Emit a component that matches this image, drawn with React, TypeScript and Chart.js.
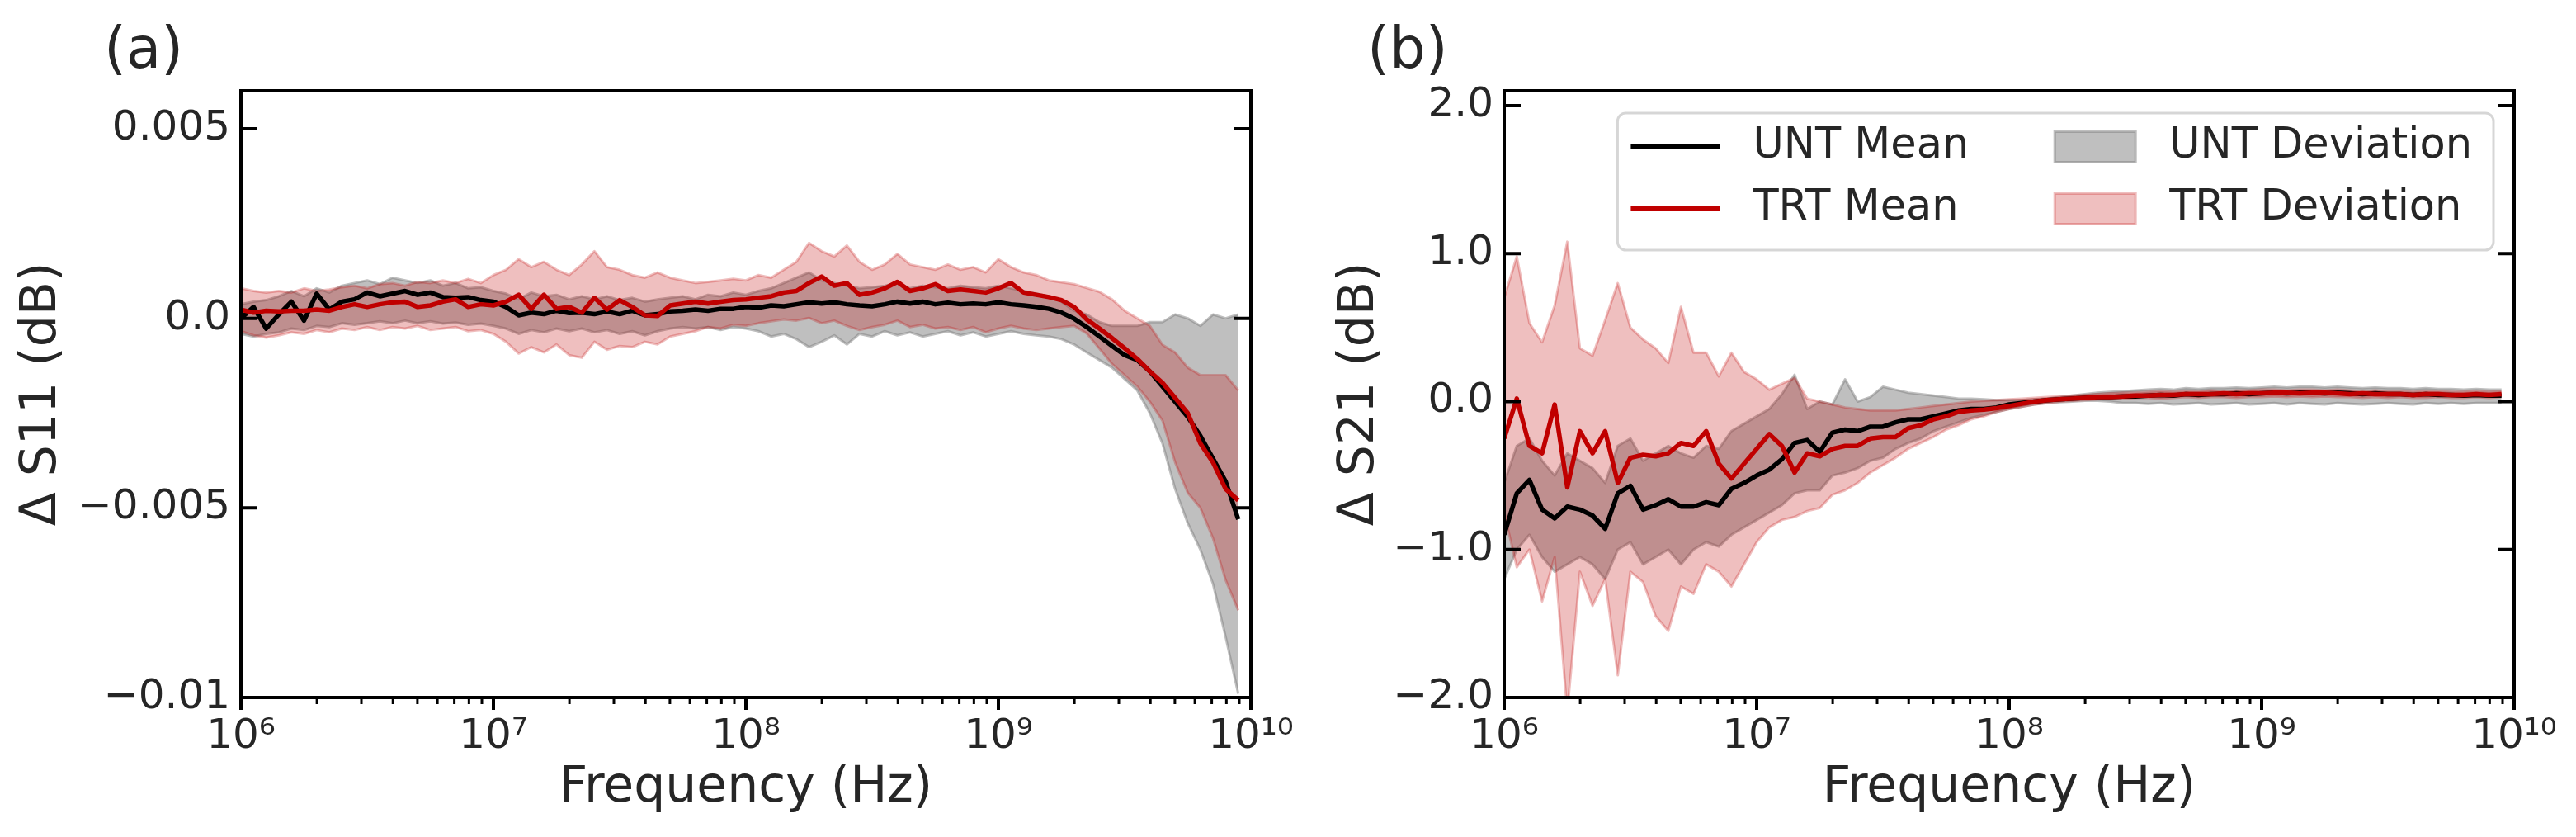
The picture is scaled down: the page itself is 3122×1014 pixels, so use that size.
import React, { useEffect, useRef } from 'react';
import { Chart, registerables } from 'chart.js';

Chart.register(...registerables);

// ---------------- data ----------------
const FREQ_HZ = [
  1.000e6, 1.122e6, 1.259e6, 1.413e6, 1.585e6, 1.778e6, 1.995e6, 2.239e6, 2.512e6, 2.818e6,
  3.162e6, 3.548e6, 3.981e6, 4.467e6, 5.012e6, 5.623e6, 6.310e6, 7.079e6, 7.943e6, 8.913e6,
  1.000e7, 1.122e7, 1.259e7, 1.413e7, 1.585e7, 1.778e7, 1.995e7, 2.239e7, 2.512e7, 2.818e7,
  3.162e7, 3.548e7, 3.981e7, 4.467e7, 5.012e7, 5.623e7, 6.310e7, 7.079e7, 7.943e7, 8.913e7,
  1.000e8, 1.122e8, 1.259e8, 1.413e8, 1.585e8, 1.778e8, 1.995e8, 2.239e8, 2.512e8, 2.818e8,
  3.162e8, 3.548e8, 3.981e8, 4.467e8, 5.012e8, 5.623e8, 6.310e8, 7.079e8, 7.943e8, 8.913e8,
  1.000e9, 1.122e9, 1.259e9, 1.413e9, 1.585e9, 1.778e9, 1.995e9, 2.239e9, 2.512e9, 2.818e9,
  3.162e9, 3.548e9, 3.981e9, 4.467e9, 5.012e9, 5.623e9, 6.310e9, 7.079e9, 7.943e9, 8.913e9,
];

// (a) Delta S11 (dB)
const S11_UNT_MEAN = [
  0.0, 0.0003, -0.00027, 0.0001, 0.00044, -0.00006, 0.00065, 0.00023, 0.00044, 0.0005,
  0.00068, 0.00058, 0.00065, 0.00072, 0.00062, 0.00068, 0.00056, 0.00054, 0.00056, 0.00048,
  0.00044, 0.0003, 0.00008, 0.00015, 0.00011, 0.0002, 0.00014, 0.00015, 0.00011, 0.00018,
  0.00011, 0.0002, 0.00008, 0.00011, 0.00018, 0.0002, 0.00023, 0.0002, 0.00025, 0.00025,
  0.0003, 0.00028, 0.00034, 0.00032, 0.00037, 0.00042, 0.00039, 0.00042, 0.00037, 0.00034,
  0.00032, 0.00037, 0.00044, 0.00039, 0.00044, 0.00037, 0.00041, 0.00037, 0.00039, 0.00037,
  0.00042, 0.00037, 0.00034, 0.0003, 0.00025, 0.00015, -0.00001, -0.00023, -0.00048, -0.00073,
  -0.00097, -0.0011, -0.0014, -0.0018, -0.0022, -0.0026, -0.0031, -0.0037, -0.0043, -0.0053,
];
const S11_TRT_MEAN = [
  0.00023, 0.00015, 0.0002, 0.00018, 0.0002, 0.0002, 0.00023, 0.0002, 0.0003, 0.00037,
  0.0003, 0.00037, 0.00042, 0.00044, 0.0003, 0.00034, 0.00044, 0.0005, 0.0003, 0.00037,
  0.00034, 0.00044, 0.00062, 0.00025, 0.00062, 0.00025, 0.0003, 0.00015, 0.00054, 0.00023,
  0.00048, 0.0003, 0.00008, 0.00006, 0.00034, 0.00039, 0.00044, 0.00039, 0.00044, 0.00048,
  0.0005, 0.00054, 0.00058, 0.00068, 0.00072, 0.00093, 0.0011, 0.00086, 0.00093, 0.00062,
  0.00068, 0.00079, 0.00096, 0.00072, 0.00079, 0.0009, 0.00072, 0.00076, 0.00072, 0.00068,
  0.00079, 0.00093, 0.00068, 0.00062, 0.00056, 0.00048, 0.0003, -0.00003, -0.00027, -0.00052,
  -0.00079, -0.00107, -0.0014, -0.0017, -0.0021, -0.0025, -0.0033, -0.0038, -0.0045, -0.0048,
];
const S11_UNT_UPPER = [
  0.00037, 0.00044, 0.00048, 0.00058, 0.00072, 0.00058, 0.00079, 0.00068, 0.00086, 0.00093,
  0.001, 0.0009, 0.00107, 0.001, 0.00093, 0.001, 0.00086, 0.00093, 0.00079, 0.00082,
  0.00072, 0.00065, 0.0005, 0.00068, 0.00058, 0.00062, 0.0005, 0.00058, 0.0005, 0.00058,
  0.00048, 0.00054, 0.00044, 0.0005, 0.00054, 0.00058, 0.0005, 0.00062, 0.00058, 0.00068,
  0.00062, 0.00072, 0.00079, 0.00093, 0.00107, 0.00121, 0.001, 0.00093, 0.00086, 0.00079,
  0.00082, 0.00086, 0.00093, 0.00079, 0.00086, 0.00082, 0.00079, 0.00086, 0.00082, 0.00079,
  0.00086, 0.00079, 0.00072, 0.00065, 0.00058, 0.00044, 0.0002, 0.0001, -0.0001, -0.0002,
  -0.0002, -0.0002, -0.0001, -0.0001, 0.0001, 0.0, -0.0002, 0.0001, 0.0, 0.0001,
];
const S11_UNT_LOWER = [
  -0.00041, -0.00048, -0.00041, -0.00037, -0.00027, -0.00031, -0.0002, -0.00023, -0.00013, -0.00017,
  -0.00013, -0.00008, -0.00013, -0.00006, -0.00013, -0.00008, -0.00014, -0.00011, -0.00017, -0.00014,
  -0.0002, -0.00027, -0.00041, -0.00031, -0.00037, -0.00027, -0.00034, -0.00027, -0.00037, -0.00031,
  -0.00041, -0.00034, -0.00045, -0.00034, -0.00027, -0.00023, -0.00027, -0.00023, -0.00031, -0.00023,
  -0.00027, -0.00034, -0.00048, -0.00041, -0.00055, -0.00076, -0.00062, -0.00045, -0.00069, -0.00041,
  -0.00048, -0.00034, -0.00045, -0.00037, -0.00048, -0.00041, -0.00034, -0.00045, -0.00037, -0.00048,
  -0.00041, -0.00034, -0.00041, -0.00045, -0.00048, -0.00055, -0.00069, -0.0009, -0.0011, -0.0013,
  -0.0016, -0.0019, -0.0025, -0.0033, -0.0045, -0.0054, -0.0061, -0.007, -0.0084, -0.0099,
];
const S11_TRT_UPPER = [
  0.00079, 0.00072, 0.00068, 0.00072, 0.00068, 0.00079, 0.00072, 0.00076, 0.00082, 0.00086,
  0.00079, 0.0009, 0.00093, 0.00086, 0.00096, 0.00093, 0.001, 0.00093, 0.00104, 0.00093,
  0.00114, 0.00128, 0.00156, 0.00135, 0.00149, 0.00128, 0.00114, 0.00142, 0.00177, 0.00135,
  0.00128, 0.00114, 0.00107, 0.00121, 0.00107, 0.001, 0.00093, 0.00096, 0.001, 0.00104,
  0.001, 0.00114, 0.00107, 0.00128, 0.00149, 0.00199, 0.00177, 0.00163, 0.00192, 0.00149,
  0.00128, 0.00142, 0.0017, 0.00142, 0.00135, 0.00128, 0.00142, 0.00128, 0.00135, 0.00121,
  0.00156, 0.00135, 0.00121, 0.00114, 0.001, 0.00095, 0.0009, 0.0008, 0.0007, 0.0005,
  0.0002, 0.0, -0.0002, -0.0007, -0.0009, -0.0013, -0.0015, -0.0015, -0.0015, -0.0019,
];
const S11_TRT_LOWER = [
  -0.00034, -0.00045, -0.00051, -0.00045, -0.00037, -0.00041, -0.00031, -0.00037, -0.00027, -0.00031,
  -0.00023, -0.00031, -0.00023, -0.00027, -0.0002, -0.00031, -0.00027, -0.00023, -0.00034, -0.00031,
  -0.00041, -0.00062, -0.00093, -0.00076, -0.0009, -0.00069, -0.00097, -0.00104, -0.00062, -0.00083,
  -0.00073, -0.00076, -0.00062, -0.00069, -0.00048, -0.00041, -0.00034, -0.00023, -0.00027, -0.00017,
  -0.0002, -0.00013, -0.00008, -0.00003, -0.00006, 0.00001, -0.00013, -0.00006, -0.0002, -0.00031,
  -0.00023, -0.00017, -0.00006, -0.00023, -0.00017, -0.00027, -0.00023, -0.00031, -0.00023, -0.00037,
  -0.00027, -0.0002, -0.00027, -0.00031, -0.00027, -0.00023, -0.0002, -0.0004, -0.0008, -0.0012,
  -0.0015, -0.0018, -0.0022, -0.0027, -0.0038, -0.0046, -0.005, -0.0058, -0.0069, -0.0077,
];

// (b) Delta S21 (dB)
const S21_UNT_MEAN = [
  -0.9, -0.62, -0.53, -0.73, -0.79, -0.71, -0.73, -0.77, -0.86, -0.62,
  -0.57, -0.73, -0.7, -0.66, -0.71, -0.71, -0.68, -0.7, -0.59, -0.55,
  -0.5, -0.46, -0.39, -0.28, -0.26, -0.34, -0.21, -0.19, -0.2, -0.17,
  -0.17, -0.14, -0.12, -0.12, -0.1, -0.08, -0.06, -0.05, -0.05, -0.04,
  -0.02, -0.01, 0.0, 0.01, 0.015, 0.02, 0.025, 0.03, 0.03, 0.035,
  0.035, 0.04, 0.045, 0.04, 0.05, 0.045, 0.05, 0.05, 0.055, 0.05,
  0.055, 0.06, 0.055, 0.06, 0.06, 0.055, 0.06, 0.055, 0.05, 0.055,
  0.05, 0.05, 0.045, 0.05, 0.045, 0.045, 0.04, 0.045, 0.04, 0.04,
];
const S21_TRT_MEAN = [
  -0.25, 0.02, -0.3, -0.35, -0.02, -0.58, -0.2, -0.35, -0.2, -0.55,
  -0.38, -0.36, -0.37, -0.35, -0.28, -0.3, -0.2, -0.42, -0.52, -0.42,
  -0.32, -0.22, -0.3, -0.48, -0.35, -0.37, -0.32, -0.3, -0.3, -0.25,
  -0.24, -0.24, -0.18, -0.16, -0.12, -0.1, -0.07, -0.06, -0.055, -0.045,
  -0.03, -0.015, 0.0, 0.01, 0.015, 0.02, 0.025, 0.03, 0.03, 0.035,
  0.04, 0.04, 0.045, 0.045, 0.05, 0.05, 0.05, 0.055, 0.05, 0.055,
  0.055, 0.06, 0.06, 0.055, 0.06, 0.06, 0.055, 0.05, 0.055, 0.05,
  0.05, 0.05, 0.045, 0.05, 0.05, 0.045, 0.045, 0.05, 0.045, 0.05,
];
const S21_UNT_UPPER = [
  -0.55, -0.3, -0.25, -0.4, -0.5, -0.35, -0.4, -0.45, -0.55, -0.3,
  -0.25, -0.4, -0.35, -0.3, -0.35, -0.38, -0.3, -0.32, -0.2, -0.15,
  -0.1, -0.05, 0.05, 0.18, -0.05, 0.0, -0.02, 0.15, 0.0, 0.03,
  0.1, 0.08, 0.06, 0.05, 0.04, 0.03, 0.02, 0.02, 0.015, 0.01,
  0.01, 0.01, 0.015, 0.02, 0.03, 0.04, 0.05, 0.06, 0.065, 0.07,
  0.075, 0.08, 0.085, 0.08, 0.09, 0.085, 0.09, 0.09, 0.095, 0.09,
  0.095, 0.1, 0.095, 0.1, 0.1, 0.095, 0.1, 0.095, 0.09, 0.095,
  0.09, 0.09, 0.085, 0.09, 0.085, 0.085, 0.08, 0.085, 0.08, 0.08,
];
const S21_UNT_LOWER = [
  -1.2, -1.0, -0.9, -1.05, -1.15, -1.1, -1.05, -1.1, -1.2, -1.0,
  -0.95, -1.1, -1.05, -1.0, -1.1, -1.0, -0.95, -0.98, -0.9, -0.85,
  -0.8, -0.75, -0.7, -0.62, -0.6, -0.6, -0.5, -0.48, -0.45, -0.4,
  -0.38, -0.32, -0.28, -0.25, -0.2, -0.17, -0.14, -0.11, -0.09, -0.07,
  -0.05, -0.035, -0.02, -0.01, -0.005, 0.0, 0.005, 0.005, 0.0, -0.01,
  -0.01, -0.015, -0.01, -0.02, -0.015, -0.01, -0.02, -0.015, -0.01, -0.02,
  -0.015, -0.01, -0.02, -0.01, -0.015, -0.02, -0.01, -0.015, -0.02, -0.015,
  -0.01, -0.015, -0.02, -0.01, -0.015, -0.01, -0.015, -0.01, -0.01, -0.01,
];
const S21_TRT_UPPER = [
  0.7, 0.98, 0.53, 0.4, 0.65, 1.08, 0.36, 0.31, 0.55, 0.8,
  0.5, 0.42, 0.36, 0.26, 0.64, 0.33, 0.33, 0.17, 0.33, 0.2,
  0.15, 0.08, 0.12, 0.16, 0.02, 0.0, -0.02, -0.04, -0.05, -0.06,
  -0.06, -0.06, -0.05, -0.04, -0.03, -0.02, -0.01, 0.0, 0.005, 0.01,
  0.015, 0.02, 0.025, 0.03, 0.035, 0.04, 0.045, 0.05, 0.055, 0.06,
  0.06, 0.065, 0.07, 0.065, 0.07, 0.07, 0.075, 0.07, 0.075, 0.075,
  0.08, 0.08, 0.075, 0.08, 0.08, 0.075, 0.08, 0.075, 0.07, 0.075,
  0.07, 0.07, 0.065, 0.07, 0.07, 0.065, 0.065, 0.07, 0.065, 0.07,
];
const S21_TRT_LOWER = [
  -0.75, -1.12, -1.0, -1.35, -1.05, -2.1, -1.15, -1.38, -1.2, -1.85,
  -1.15, -1.22, -1.45, -1.55, -1.25, -1.3, -1.1, -1.15, -1.25, -1.1,
  -0.95, -0.85, -0.8, -0.78, -0.74, -0.72, -0.63, -0.6, -0.55, -0.48,
  -0.43, -0.38, -0.32, -0.28, -0.24, -0.19, -0.16, -0.12, -0.1, -0.07,
  -0.05, -0.035, -0.02, -0.01, 0.0, 0.005, 0.01, 0.015, 0.02, 0.02,
  0.025, 0.025, 0.02, 0.025, 0.03, 0.025, 0.03, 0.03, 0.025, 0.03,
  0.03, 0.035, 0.03, 0.035, 0.03, 0.035, 0.03, 0.03, 0.025, 0.03,
  0.025, 0.03, 0.025, 0.025, 0.03, 0.025, 0.025, 0.03, 0.025, 0.03,
];

// ticks
const X_MAJOR_TICKS = [1e6, 1e7, 1e8, 1e9, 1e10];
const X_TICK_LABELS = ['10\u2076', '10\u2077', '10\u2078', '10\u2079', '10\u00B9\u2070'];
const X_MINOR_MULTIPLIERS = [2, 3, 4, 5, 6, 7, 8, 9];
const S11_Y_TICKS = [-0.01, -0.005, 0, 0.005];
const S11_Y_LABELS = ['\u22120.01', '\u22120.005', '0.0', '0.005'];
const S21_Y_TICKS = [-2, -1, 0, 1, 2];
const S21_Y_LABELS = ['\u22122.0', '\u22121.0', '0.0', '1.0', '2.0'];
const LEGEND_LINES = ['UNT Mean', 'TRT Mean'];
const LEGEND_BANDS = ['UNT Deviation', 'TRT Deviation'];

// ---------------- styles ----------------
const FONT = '"DejaVu Sans", "Liberation Sans", sans-serif';
const TEXT_COLOR = '#262626';
const AXIS_COLOR = '#000000';
const UNT_LINE = '#000000';
const TRT_LINE = '#c00000';
const UNT_FILL = 'rgba(128,128,128,0.5)';
const TRT_FILL = 'rgba(192,0,0,0.25)';

const X_ALL_TICKS: { value: number; major: boolean }[] = [];
X_MAJOR_TICKS.forEach((m, i) => {
  X_ALL_TICKS.push({ value: m, major: true });
  if (i < X_MAJOR_TICKS.length - 1) X_MINOR_MULTIPLIERS.forEach((k) => X_ALL_TICKS.push({ value: m * k, major: false }));
});

const frameTicksPlugin = {
  id: 'frameTicks',
  afterDraw(chart: any) {
    const { ctx, chartArea: ca, scales } = chart;
    const xs = scales.x;
    const ys = scales.y;
    ctx.save();
    ctx.strokeStyle = AXIS_COLOR;
    ctx.lineCap = 'butt';
    ctx.lineWidth = 4;
    ys.ticks.forEach((t: any) => {
      const py = ys.getPixelForValue(t.value);
      ctx.beginPath();
      ctx.moveTo(ca.left, py);
      ctx.lineTo(ca.left + 20, py);
      ctx.moveTo(ca.right, py);
      ctx.lineTo(ca.right - 20, py);
      ctx.stroke();
    });
    xs.ticks.forEach((t: any) => {
      const px = xs.getPixelForValue(t.value);
      ctx.lineWidth = t.major ? 4 : 3;
      ctx.beginPath();
      ctx.moveTo(px, ca.bottom);
      ctx.lineTo(px, ca.bottom + (t.major ? 15 : 8));
      ctx.stroke();
    });
    ctx.lineWidth = 4;
    ctx.strokeRect(ca.left, ca.top, ca.right - ca.left, ca.bottom - ca.top);
    ctx.restore();
  },
};

const panelLabelPlugin = {
  id: 'panelLabel',
  afterDraw(chart: any, _args: any, opts: any) {
    if (!opts || !opts.text) return;
    const { ctx, chartArea: ca } = chart;
    ctx.save();
    ctx.font = `69px ${FONT}`;
    ctx.fillStyle = TEXT_COLOR;
    ctx.textAlign = 'left';
    ctx.textBaseline = 'alphabetic';
    ctx.fillText(opts.text, ca.left - 166, ca.top - 28);
    ctx.restore();
  },
};

const insideLegendPlugin = {
  id: 'insideLegend',
  afterDraw(chart: any, _args: any, opts: any) {
    if (!opts || !opts.show) return;
    const { ctx, chartArea: ca } = chart;
    const ds = chart.data.datasets;
    const find = (label: string) => ds.find((d: any) => d.label === label);
    const fs = 51;
    ctx.save();
    ctx.font = `${fs}px ${FONT}`;
    const w1 = Math.max(...LEGEND_LINES.map((t) => ctx.measureText(t).width));
    const w2 = Math.max(...LEGEND_BANDS.map((t) => ctx.measureText(t).width));
    const pad = 16, handleLen = 108, textPad = 40, colGap = 104, patchLen = 98, textPad2 = 41, rightPad = 26;
    const boxW = pad + handleLen + textPad + w1 + colGap + patchLen + textPad2 + w2 + rightPad;
    const boxH = 166;
    const right = ca.right - 25;
    const top = ca.top + 27;
    const left = right - boxW;
    ctx.beginPath();
    (ctx as any).roundRect(left, top, boxW, boxH, 10);
    ctx.fillStyle = 'rgba(255,255,255,0.8)';
    ctx.fill();
    ctx.lineWidth = 3;
    ctx.strokeStyle = 'rgba(204,204,204,0.8)';
    ctx.stroke();
    const rows = [top + 41, top + 116];
    const col2 = left + pad + handleLen + textPad + w1 + colGap;
    ctx.textBaseline = 'middle';
    ctx.textAlign = 'left';
    LEGEND_LINES.forEach((label, r) => {
      const d = find(label);
      ctx.strokeStyle = d ? d.borderColor : '#000';
      ctx.lineWidth = 6;
      ctx.lineCap = 'butt';
      ctx.beginPath();
      ctx.moveTo(left + pad, rows[r]);
      ctx.lineTo(left + pad + handleLen, rows[r]);
      ctx.stroke();
      ctx.fillStyle = TEXT_COLOR;
      ctx.fillText(label, left + pad + handleLen + textPad, rows[r]);
    });
    LEGEND_BANDS.forEach((label, r) => {
      const d = find(label);
      ctx.fillStyle = d ? d.backgroundColor : '#ccc';
      ctx.fillRect(col2, rows[r] - 18.5, patchLen, 37);
      ctx.strokeStyle = d ? d.borderColor : '#ccc';
      ctx.lineWidth = 3;
      ctx.strokeRect(col2, rows[r] - 18.5, patchLen, 37);
      ctx.fillStyle = TEXT_COLOR;
      ctx.fillText(label, col2 + patchLen + textPad2, rows[r]);
    });
    ctx.restore();
  },
};

type PanelDef = {
  label: string;
  yTitle: string;
  yMin: number;
  yMax: number;
  yTicks: number[];
  yLabels: string[];
  untMean: number[];
  trtMean: number[];
  untUpper: number[];
  untLower: number[];
  trtUpper: number[];
  trtLower: number[];
  canvasLeft: number;
  canvasWidth: number;
  yAxisWidth: number;
  yTitlePad: number;
  rightPad: number;
  legend: boolean;
};

const PANELS: PanelDef[] = [
  {
    label: '(a)', yTitle: '\u0394 S11 (dB)', yMin: -0.01, yMax: 0.006,
    yTicks: S11_Y_TICKS, yLabels: S11_Y_LABELS,
    untMean: S11_UNT_MEAN, trtMean: S11_TRT_MEAN, untUpper: S11_UNT_UPPER, untLower: S11_UNT_LOWER,
    trtUpper: S11_TRT_UPPER, trtLower: S11_TRT_LOWER,
    canvasLeft: 0, canvasWidth: 1700,
    yAxisWidth: 292, yTitlePad: 15, rightPad: 184, legend: false,
  },
  {
    label: '(b)', yTitle: '\u0394 S21 (dB)', yMin: -2, yMax: 2.1,
    yTicks: S21_Y_TICKS, yLabels: S21_Y_LABELS,
    untMean: S21_UNT_MEAN, trtMean: S21_TRT_MEAN, untUpper: S21_UNT_UPPER, untLower: S21_UNT_LOWER,
    trtUpper: S21_TRT_UPPER, trtLower: S21_TRT_LOWER,
    canvasLeft: 1561, canvasWidth: 1561,
    yAxisWidth: 262, yTitlePad: 51, rightPad: 75, legend: true,
  },
];

const pts = (ys: number[]) => FREQ_HZ.map((f, i) => ({ x: f, y: ys[i] }));

function buildConfig(p: PanelDef): any {
  const common = { pointRadius: 0, pointHoverRadius: 0, tension: 0, borderJoinStyle: 'round' };
  return {
    type: 'line',
    data: {
      datasets: [
        { ...common, label: '', data: pts(p.untLower), borderColor: UNT_FILL, borderWidth: 3, backgroundColor: UNT_FILL, fill: false, order: 4 },
        { ...common, label: 'UNT Deviation', data: pts(p.untUpper), borderColor: UNT_FILL, borderWidth: 3, backgroundColor: UNT_FILL, fill: '-1', order: 4 },
        { ...common, label: '', data: pts(p.trtLower), borderColor: TRT_FILL, borderWidth: 3, backgroundColor: TRT_FILL, fill: false, order: 3 },
        { ...common, label: 'TRT Deviation', data: pts(p.trtUpper), borderColor: TRT_FILL, borderWidth: 3, backgroundColor: TRT_FILL, fill: '-1', order: 3 },
        { ...common, label: 'UNT Mean', data: pts(p.untMean), borderColor: UNT_LINE, borderWidth: 5.5, fill: false, order: 2 },
        { ...common, label: 'TRT Mean', data: pts(p.trtMean), borderColor: TRT_LINE, borderWidth: 5.5, fill: false, order: 1 },
      ],
    },
    options: {
      responsive: false,
      animation: false,
      devicePixelRatio: 1,
      events: [],
      layout: { padding: { left: 0, right: p.rightPad, top: 110, bottom: 0 } },
      plugins: {
        legend: { display: false },
        tooltip: { enabled: false },
        title: { display: false },
        panelLabel: { text: p.label },
        insideLegend: { show: p.legend },
      },
      scales: {
        x: {
          type: 'logarithmic',
          min: 1e6,
          max: 1e10,
          grid: { display: false, drawTicks: false },
          border: { display: false },
          afterBuildTicks: (scale: any) => {
            scale.ticks = X_ALL_TICKS.map((t) => ({ value: t.value, major: t.major }));
          },
          afterFit: (scale: any) => {
            scale.height = 169;
            scale.paddingLeft = 0;
            scale.paddingRight = 0;
          },
          ticks: {
            autoSkip: false,
            maxRotation: 0,
            minRotation: 0,
            padding: 18,
            color: TEXT_COLOR,
            font: { family: FONT, size: 50 },
            callback: (value: any) => {
              const k = X_MAJOR_TICKS.indexOf(Number(value));
              return k >= 0 ? X_TICK_LABELS[k] : '';
            },
          },
          title: {
            display: true,
            text: 'Frequency (Hz)',
            color: TEXT_COLOR,
            font: { family: FONT, size: 60 },
            padding: { top: 0, bottom: 23 },
          },
        },
        y: {
          type: 'linear',
          min: p.yMin,
          max: p.yMax,
          grid: { display: false, drawTicks: false },
          border: { display: false },
          afterBuildTicks: (scale: any) => {
            scale.ticks = p.yTicks.map((v) => ({ value: v }));
          },
          afterFit: (scale: any) => {
            scale.width = p.yAxisWidth;
            scale.paddingTop = 0;
            scale.paddingBottom = 0;
          },
          ticks: {
            autoSkip: false,
            padding: 13,
            color: TEXT_COLOR,
            font: { family: FONT, size: 50 },
            callback: (value: any) => {
              const k = p.yTicks.findIndex((v) => Math.abs(v - Number(value)) < 1e-9);
              return k >= 0 ? p.yLabels[k] : '';
            },
          },
          title: {
            display: true,
            text: p.yTitle,
            color: TEXT_COLOR,
            font: { family: FONT, size: 60 },
            padding: { top: p.yTitlePad, bottom: 0 },
          },
        },
      },
    },
    plugins: [frameTicksPlugin, panelLabelPlugin, insideLegendPlugin],
  };
}

function Panel({ def }: { def: PanelDef }) {
  const ref = useRef<HTMLCanvasElement | null>(null);
  useEffect(() => {
    if (!ref.current) return;
    const chart = new Chart(ref.current, buildConfig(def));
    return () => chart.destroy();
  }, [def]);
  return (
    <canvas
      ref={ref}
      width={def.canvasWidth}
      height={1014}
      style={{ position: 'absolute', left: def.canvasLeft, top: 0, width: def.canvasWidth, height: 1014 }}
    />
  );
}

export default function App() {
  useEffect(() => {
    document.body.style.margin = '0';
    document.body.style.overflow = 'hidden';
  }, []);
  return (
    <div style={{ position: 'absolute', left: 0, top: 0, width: 3122, height: 1014, background: '#ffffff', overflow: 'hidden' }}>
      <Panel def={PANELS[0]} />
      <Panel def={PANELS[1]} />
    </div>
  );
}
